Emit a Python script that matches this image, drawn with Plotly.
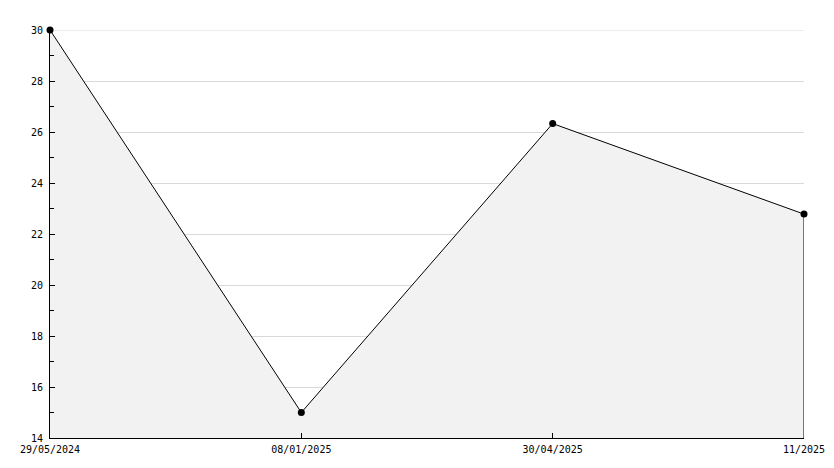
import plotly.graph_objects as go

dates = ["29/05/2024", "08/01/2025", "30/04/2025", "11/2025"]
values = [30.0, 15.0, 26.33, 22.78]
y_min, y_max = 14, 30

idx = list(range(len(dates)))

fig = go.Figure()
fig.add_trace(go.Scatter(
    x=idx, y=values, mode="lines+markers",
    line=dict(color="black", width=1),
    marker=dict(color="black", size=7, symbol="circle"),
    fill="tozeroy", fillcolor="#f2f2f2",
    cliponaxis=False,
    hoverinfo="x+y", showlegend=False,
))
# closing edge of the filled area at the last point
fig.add_trace(go.Scatter(
    x=[idx[-1], idx[-1]], y=[values[-1], y_min], mode="lines",
    line=dict(color="black", width=1), hoverinfo="skip", showlegend=False,
))

# gridline at the top of the range
fig.add_shape(type="line", xref="paper", yref="y", x0=0, x1=1, y0=y_max, y1=y_max,
              line=dict(color="#d9d9d9", width=1), layer="below")

font = dict(family="DejaVu Sans Mono", size=10, color="black")
fig.update_layout(
    width=826, height=460,
    margin=dict(l=42, r=30, t=22, b=30, autoexpand=False),
    paper_bgcolor="white", plot_bgcolor="white",
    font=font,
    xaxis=dict(
        range=[0, len(dates) - 1], tickvals=idx, ticktext=dates,
        showgrid=False, zeroline=False,
        showline=True, linecolor="black", linewidth=1,
        ticks="inside", ticklen=5, tickcolor="black",
        ticklabelstandoff=2,
        tickfont=font, fixedrange=True,
    ),
    yaxis=dict(
        range=[y_min, y_max], dtick=2, tick0=0,
        showgrid=True, gridcolor="#d9d9d9", gridwidth=1, zeroline=False,
        showline=True, linecolor="black", linewidth=1,
        ticks="inside", ticklen=5, tickcolor="black",
        ticklabelstandoff=4,
        minor=dict(dtick=1, ticks="inside", ticklen=4, tickcolor="black", showgrid=False),
        tickfont=font, fixedrange=True,
    ),
)
fig.write_html("out.html")
